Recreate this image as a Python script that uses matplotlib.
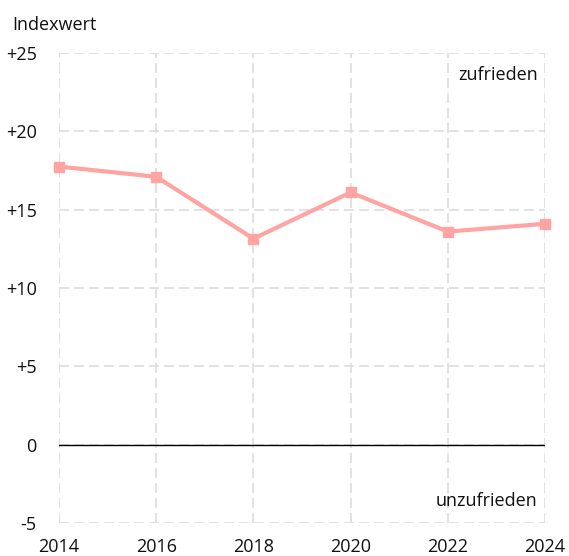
import matplotlib.pyplot as plt

years = [2014, 2016, 2018, 2020, 2022, 2024]
index_values = [17.75, 17.1, 13.15, 16.1, 13.6, 14.1]
y_ticks = [-5, 0, 5, 10, 15, 20, 25]
y_tick_labels = ["-5", "0", "+5", "+10", "+15", "+20", "+25"]

plt.rcParams['font.family'] = ['Open Sans', 'DejaVu Sans']

fig = plt.figure(figsize=(5.69, 5.56), dpi=100)
ax = fig.add_axes([59 / 569, 33 / 556, 486 / 569, 470 / 556])

ax.set_xlim(2014, 2024)
ax.set_ylim(-5, 25)
ax.set_xticks(years)
ax.set_yticks(y_ticks)
ax.set_yticklabels(y_tick_labels)

# dashed grid incl. outer frame
ax.grid(True, color='#dddddd', linestyle=(0, (6, 3)), linewidth=1.2)
ax.set_axisbelow(True)
for s in ax.spines.values():
    s.set_visible(False)
ax.tick_params(length=0, labelsize=13, colors='#111111')
ax.tick_params(axis='y', pad=16)
ax.tick_params(axis='x', pad=11)
for lbl in ax.get_yticklabels():
    lbl.set_horizontalalignment('right')

ax.axhline(0, color='black', linewidth=1.0, zorder=2)

ax.plot(years, index_values, color='#ffa3a3', linewidth=3, marker='s',
        markersize=7, zorder=3, clip_on=False)

ax.text(2023.85, 23.6, "zufrieden", ha='right', va='center', fontsize=13, color='#111111')
ax.text(2023.85, -3.6, "unzufrieden", ha='right', va='center', fontsize=13, color='#111111')
fig.text(12 / 569, 1 - 25 / 556, "Indexwert", ha='left', va='center', fontsize=13, color='#111111')

fig.savefig('out.png', dpi=100)
